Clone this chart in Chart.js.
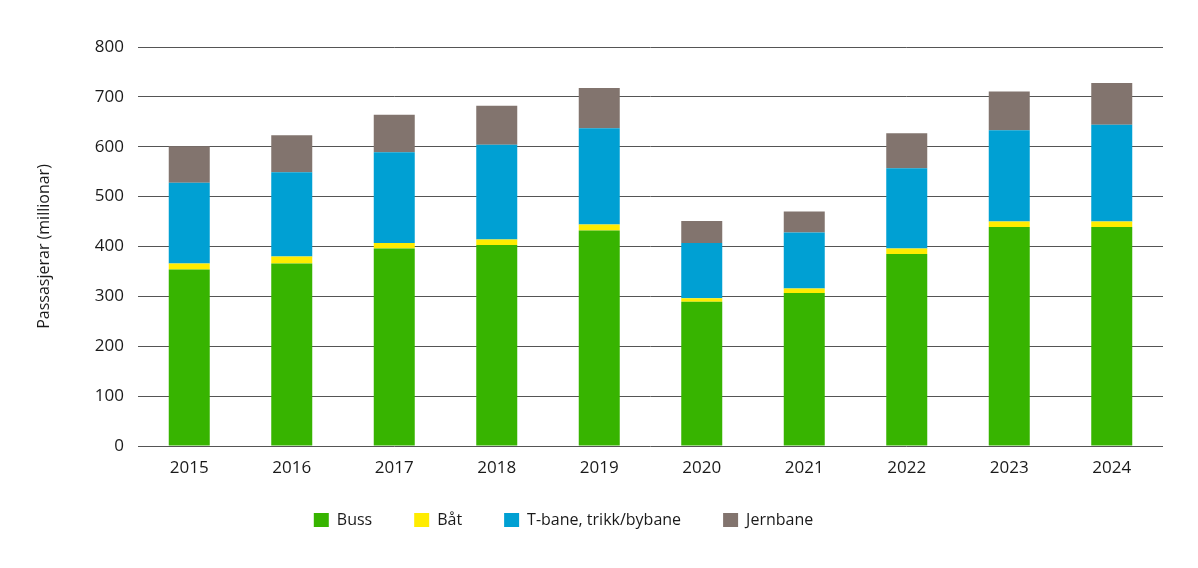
<!DOCTYPE html>
<html>
<head>
<meta charset="utf-8">
<script src="https://cdn.jsdelivr.net/npm/chart.js@4"></script>
<style>
  html, body { margin: 0; padding: 0; background: #fff; }
  #wrap { width: 1198px; height: 568px; }
</style>
</head>
<body>
<div id="wrap"><canvas id="c" width="1198" height="568"></canvas></div>
<script>
// passengers per year, millions
var years = ['2015', '2016', '2017', '2018', '2019', '2020', '2021', '2022', '2023', '2024'];
var buss     = [354, 366, 396, 403, 432, 289, 307, 385, 439, 439];
var baat     = [12, 14, 11, 11, 12, 7, 9, 11, 11, 11];
var tbane    = [162, 169, 182, 190, 193, 111, 112, 161, 183, 194];
var jernbane = [73, 74, 75, 78, 81, 44, 42, 70, 78, 84];
var yTicks   = [0, 100, 200, 300, 400, 500, 600, 700, 800];

var fontFamily = "'Open Sans', 'Noto Sans', sans-serif";

function ds(label, data, color) {
    return {
        label: label,
        data: data,
        backgroundColor: color,
        borderWidth: 0,
        barPercentage: 0.4,
        categoryPercentage: 1.0
    };
}

// the legend padding is wide between items, so pull the legend box back up and a bit left
var nudgeLegend = {
    id: 'nudgeLegend',
    afterLayout: function(chart) {
        var l = chart.legend;
        l.top -= 12; l.bottom -= 12;
        l.left -= 18; l.right -= 18;
    }
};

var chart = new Chart(document.getElementById('c'), {
    type: 'bar',
    data: {
        labels: years,
        datasets: [
            ds('Buss', buss, '#37b400'),
            ds('Båt', baat, '#ffec00'),
            ds('T-bane, trikk/bybane', tbane, '#00a0d3'),
            ds('Jernbane', jernbane, '#82746e')
        ]
    },
    plugins: [nudgeLegend],
    options: {
        responsive: false,
        animation: false,
        devicePixelRatio: 1,
        layout: { padding: { left: 0, right: 35, top: 47, bottom: 26 } },
        plugins: {
            tooltip: { enabled: false },
            legend: {
                position: 'bottom',
                maxHeight: 60,
                labels: {
                    boxWidth: 15,
                    boxHeight: 14,
                    padding: 42,
                    color: '#1a1a1a',
                    font: { family: fontFamily, size: 16 }
                }
            }
        },
        scales: {
            x: {
                stacked: true,
                grid: { display: false, drawTicks: false },
                border: { display: false },
                ticks: {
                    padding: 12,
                    color: '#1a1a1a',
                    maxRotation: 0,
                    font: { family: fontFamily, size: 17 }
                },
                afterFit: function(s) { s.height = 36; }
            },
            y: {
                stacked: true,
                min: 0,
                max: 800,
                afterBuildTicks: function(s) {
                    s.ticks = yTicks.map(function(v) { return { value: v }; });
                },
                grid: { color: '#555555', lineWidth: 1, drawTicks: false },
                border: { display: false },
                ticks: {
                    padding: 14,
                    color: '#1a1a1a',
                    font: { family: fontFamily, size: 17 }
                },
                title: {
                    display: true,
                    text: 'Passasjerar (millionar)',
                    color: '#1a1a1a',
                    padding: { top: 35, bottom: 0 },
                    font: { family: fontFamily, size: 16 }
                },
                afterFit: function(s) { s.width = 138; }
            }
        }
    }
});
</script>
</body>
</html>
